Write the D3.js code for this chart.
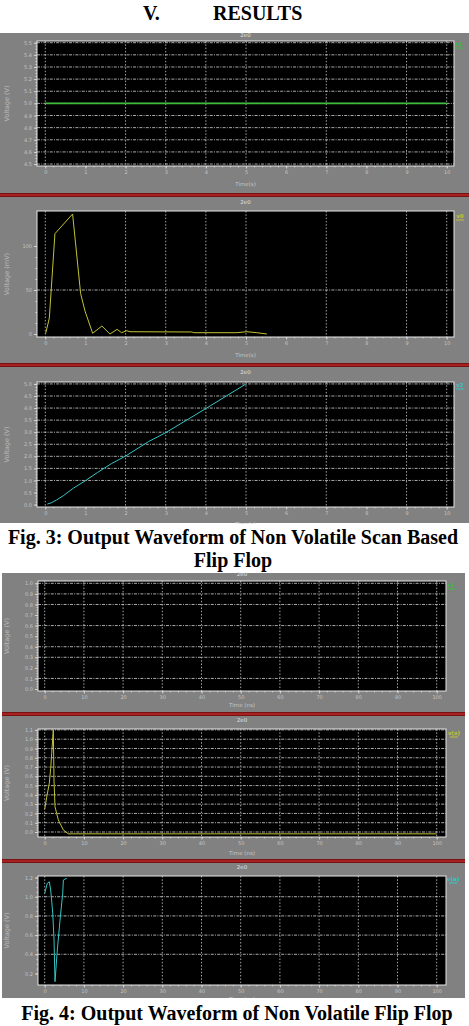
<!DOCTYPE html>
<html>
<head>
<meta charset="utf-8">
<script src="https://cdn.jsdelivr.net/npm/d3@7"></script>
<style>
  body { margin: 0; background: #fff; }
  svg { display: block; }
  .tick text { fill: #c4c4c4; font-family: "DejaVu Sans", sans-serif; font-size: 5px; }
  .tick line { stroke: #d8d8d8; }
  .domain { display: none; }
</style>
</head>
<body>
<div id="chart"></div>
<script>
// ---- Fig. 3 (time 0..10) ----
const fig3TimeTicks = [0, 1, 2, 3, 4, 5, 6, 7, 8, 9, 10];
const fig3TimeGrid = [0, 2, 3, 4, 5, 7, 9, 10];

const clkTicks = [4.5, 4.6, 4.7, 4.8, 4.9, 5.0, 5.1, 5.2, 5.3, 5.4, 5.5];
const clkTime = [0, 10];
const clkVolt = [5.0, 5.0];

const diffTicks = [0, 50, 100];
const diffGrid = [50];
const diffTime = [0.01, 0.1, 0.24, 0.68, 0.88, 0.99, 1.18, 1.41, 1.61, 1.79, 1.9, 2.03, 2.11, 3.65, 3.7, 4.77, 5.02, 5.27, 5.52];
const diffMv = [0.8, 18, 114, 136.4, 46, 26, 0.8, 9.1, 0, 5.3, 1.5, 3.75, 2.6, 2.3, 1.5, 1.5, 2.6, 1.5, 0];

const rampTicks = [0, 0.5, 1.0, 1.5, 2.0, 2.5, 3.0, 3.5, 4.0, 4.5, 5.0];
const rampGrid = [1.0, 1.5, 2.0, 2.5, 3.0, 3.5, 4.0, 4.5, 5.0];
const rampTime = [0.05, 0.16, 0.28, 0.45, 0.7, 0.99, 1.3, 1.65, 2.01, 2.57, 3.0, 4.0, 5.0];
const rampVolt = [0.02, 0.08, 0.19, 0.37, 0.68, 0.98, 1.33, 1.7, 2.02, 2.61, 2.98, 3.98, 5.0];

// ---- Fig. 4 (time 0..100) ----
const fig4TimeTicks = [0, 10, 20, 30, 40, 50, 60, 70, 80, 90, 100];

const holdTicks = [0, 0.1, 0.2, 0.3, 0.4, 0.5, 0.6, 0.7, 0.8, 0.9, 1.0];
const holdGrid = [0.1, 0.3, 0.4, 0.6, 0.8, 0.9, 1.0];

const decayTicks = [0, 0.1, 0.2, 0.3, 0.4, 0.5, 0.6, 0.7, 0.8, 0.9, 1.0, 1.1];
const decayTime = [0, 0.51, 1.18, 1.53, 1.79, 2.2, 2.37, 2.63, 3.47, 4.75, 6.02, 100];
const decayVolt = [0.245, 0.375, 0.526, 0.687, 0.849, 1.1, 0.56, 0.273, 0.13, 0.022, -0.02, -0.02];

const swingTicks = [0.2, 0.4, 0.6, 0.8, 1.0, 1.2];
const swingGrid = [0.4, 0.6, 0.8, 1.0];
const swingTime = [0, 0.66, 1.18, 1.53, 2.05, 2.38, 2.63, 3.22, 3.91, 4.6, 4.76, 5.45, 5.63];
const swingVolt = [1.035, 1.14, 1.156, 1.07, 0.83, 0.55, 0.115, 0.445, 0.757, 1.035, 1.174, 1.19, 1.19];

const svg = d3.select('#chart').append('svg')
  .attr('width', 469)
  .attr('height', 1026);

const serif = '"Liberation Serif", "Times New Roman", serif';

svg.append('text').attr('x', 143).attr('y', 20)
  .attr('font-family', serif).attr('font-weight', 'bold').attr('font-size', 20)
  .text('V.');
svg.append('text').attr('x', 213).attr('y', 20)
  .attr('font-family', serif).attr('font-weight', 'bold').attr('font-size', 20)
  .text('RESULTS');

// separators between stacked panels
function separator(x0, x1, y) {
  svg.append('rect').attr('x', x0).attr('y', y).attr('width', x1 - x0).attr('height', 4).attr('fill', '#7a1212');
  svg.append('rect').attr('x', x0).attr('y', y + 1).attr('width', x1 - x0).attr('height', 2).attr('fill', '#a52222');
}

let clipId = 0;

function panel(o) {
  const g = svg.append('g');

  g.append('rect')
    .attr('x', o.band[0]).attr('y', o.band[1])
    .attr('width', o.band[2] - o.band[0]).attr('height', o.band[3] - o.band[1])
    .attr('fill', '#818181');

  const [px0, py0, px1, py1] = o.plot;

  const x = d3.scaleLinear().domain(o.xDomain).range(o.xRange);
  const y = d3.scaleLinear().domain(o.yDomain).range([py1, py0]);

  g.append('rect')
    .attr('x', px0).attr('y', py0)
    .attr('width', px1 - px0).attr('height', py1 - py0)
    .attr('fill', '#000');

  // grid
  g.selectAll('.hgrid')
    .data(o.yGrid)
    .enter().append('line')
    .attr('x1', px0).attr('x2', px1)
    .attr('y1', d => y(d)).attr('y2', d => y(d))
    .attr('stroke', '#d4d4d4').attr('stroke-width', 0.8)
    .attr('stroke-dasharray', '3,1.2,1,1.2');

  g.selectAll('.vgrid')
    .data(o.xGrid)
    .enter().append('line')
    .attr('x1', d => x(d)).attr('x2', d => x(d))
    .attr('y1', py0).attr('y2', py1)
    .attr('stroke', '#cfcfcf').attr('stroke-width', 0.8)
    .attr('stroke-dasharray', '1.5,1.8');

  // trace
  const id = 'clip' + (clipId++);
  g.append('clipPath').attr('id', id)
    .append('rect').attr('x', px0).attr('y', py0)
    .attr('width', px1 - px0).attr('height', py1 - py0);

  if (o.t && o.t.length) {
    const pts = o.t.map((t, i) => [t, o.v[i]]);
    g.append('path')
      .datum(pts)
      .attr('clip-path', 'url(#' + id + ')')
      .attr('fill', 'none')
      .attr('stroke', o.color)
      .attr('stroke-width', o.width || 1)
      .attr('d', d3.line().x(d => x(d[0])).y(d => y(d[1])));
  }

  g.append('rect')
    .attr('x', px0).attr('y', py0)
    .attr('width', px1 - px0).attr('height', py1 - py0)
    .attr('fill', 'none').attr('stroke', '#e6e6e6').attr('stroke-width', 1);

  // axes
  g.append('g')
    .attr('transform', 'translate(' + px0 + ',0)')
    .call(d3.axisLeft(y).tickValues(o.yTicks).tickSize(3).tickPadding(2).tickFormat(o.yFmt));

  const step = (o.yTicks[1] - o.yTicks[0]) / 4;
  const minorY = d3.range(o.yTicks[0], o.yTicks[o.yTicks.length - 1] + step / 2, step);
  g.append('g')
    .attr('transform', 'translate(' + px0 + ',0)')
    .call(d3.axisLeft(y).tickValues(minorY).tickSize(1.5).tickFormat(''));

  g.append('g')
    .attr('transform', 'translate(0,' + py1 + ')')
    .call(d3.axisBottom(x).tickValues(o.xTicks).tickSize(2.5).tickPadding(2).tickFormat(d3.format('d')));

  const xs = (o.xTicks[1] - o.xTicks[0]) / 5;
  const minorX = d3.range(o.xTicks[0], o.xTicks[o.xTicks.length - 1] + xs / 2, xs);
  g.append('g')
    .attr('transform', 'translate(0,' + py1 + ')')
    .call(d3.axisBottom(x).tickValues(minorX).tickSize(1.3).tickFormat(''));

  // labels
  g.append('text')
    .attr('transform', 'translate(9,' + ((py0 + py1) / 2) + ') rotate(-90)')
    .attr('text-anchor', 'middle')
    .attr('font-family', 'DejaVu Sans, sans-serif').attr('font-size', 6.5)
    .attr('fill', '#b9b9b9')
    .text(o.yLabel);

  g.append('text')
    .attr('x', (px0 + px1) / 2).attr('y', o.xLabelY)
    .attr('text-anchor', 'middle')
    .attr('font-family', 'DejaVu Sans, sans-serif').attr('font-size', 5.5)
    .attr('fill', '#c4c4c4')
    .text(o.xLabel);

  g.append('text')
    .attr('x', (px0 + px1) / 2).attr('y', o.titleY)
    .attr('text-anchor', 'middle')
    .attr('font-family', 'DejaVu Sans, sans-serif').attr('font-size', 5.5)
    .attr('fill', '#e0e0e0')
    .text(o.title);

  // legend tag at right
  g.append('text')
    .attr('x', o.legend[0]).attr('y', o.legend[1])
    .attr('text-anchor', 'middle')
    .attr('font-family', 'DejaVu Sans, sans-serif').attr('font-size', 5.5)
    .attr('font-weight', 'bold')
    .attr('fill', o.color)
    .text(o.legendText);
  g.append('line')
    .attr('x1', o.legend[0] - 4).attr('x2', o.legend[0] + 4)
    .attr('y1', o.legend[1] + 2).attr('y2', o.legend[1] + 2)
    .attr('stroke', o.color).attr('stroke-width', 1);
}

const fmt1 = d3.format('.1f');

// Fig. 3 panels
panel({
  band: [0, 33, 469, 193], plot: [37, 41, 454, 166],
  xDomain: [0, 10], xRange: [45.3, 446.7], xTicks: fig3TimeTicks, xGrid: fig3TimeGrid,
  yDomain: [4.484, 5.514], yTicks: clkTicks, yGrid: clkTicks, yFmt: fmt1,
  t: clkTime, v: clkVolt, color: '#3dbb3d', width: 1.6,
  yLabel: 'Voltage (V)', xLabel: 'Time(s)', xLabelY: 186, title: '2e0', titleY: 37,
  legend: [459, 46], legendText: 'v1'
});
separator(0, 469, 193);

panel({
  band: [0, 197, 469, 363], plot: [37, 211, 454, 337],
  xDomain: [0, 10], xRange: [45.3, 446.7], xTicks: fig3TimeTicks, xGrid: fig3TimeGrid,
  yDomain: [-3.4, 139.8], yTicks: diffTicks, yGrid: diffGrid, yFmt: d3.format('d'),
  t: diffTime, v: diffMv, color: '#c2c236', width: 1,
  yLabel: 'Voltage (mV)', xLabel: 'Time(s)', xLabelY: 357, title: '2e0', titleY: 204,
  legend: [460, 218], legendText: 'v0'
});
separator(0, 469, 363);

panel({
  band: [0, 367, 469, 523], plot: [37, 382, 454, 507],
  xDomain: [0, 10], xRange: [45.3, 446.7], xTicks: fig3TimeTicks, xGrid: fig3TimeGrid,
  yDomain: [-0.1, 5.08], yTicks: rampTicks, yGrid: rampGrid, yFmt: fmt1,
  t: rampTime, v: rampVolt, color: '#36c4c4', width: 1,
  yLabel: 'Voltage (V)', xLabel: 'Time(s)', xLabelY: 526, title: '2e0', titleY: 374,
  legend: [460, 387], legendText: 'v2'
});

svg.append('rect').attr('x', 0).attr('y', 524).attr('width', 469).attr('height', 48).attr('fill', '#fff');
svg.append('text').attr('x', 233).attr('y', 544).attr('text-anchor', 'middle')
  .attr('font-family', serif).attr('font-weight', 'bold').attr('font-size', 20)
  .text('Fig. 3: Output Waveform of Non Volatile Scan Based');
svg.append('text').attr('x', 233).attr('y', 567).attr('text-anchor', 'middle')
  .attr('font-family', serif).attr('font-weight', 'bold').attr('font-size', 20)
  .text('Flip Flop');

// Fig. 4 panels
panel({
  band: [2, 573, 465, 712], plot: [38, 581, 446, 691],
  xDomain: [0, 100], xRange: [44.7, 436.7], xTicks: fig4TimeTicks, xGrid: fig4TimeTicks,
  yDomain: [-0.019, 1.022], yTicks: holdTicks, yGrid: holdGrid, yFmt: fmt1,
  t: [], v: [], color: '#3dbb3d',
  yLabel: 'Voltage (V)', xLabel: 'Time (ns)', xLabelY: 707, title: '2e0', titleY: 576,
  legend: [451, 587], legendText: 'v1'
});
separator(2, 465, 712);

panel({
  band: [2, 716, 465, 859], plot: [38, 729, 446, 837],
  xDomain: [0, 100], xRange: [44.7, 436.7], xTicks: fig4TimeTicks, xGrid: fig4TimeTicks,
  yDomain: [-0.054, 1.11], yTicks: decayTicks, yGrid: decayTicks, yFmt: fmt1,
  t: decayTime, v: decayVolt, color: '#c2c236', width: 1,
  yLabel: 'Voltage (V)', xLabel: 'Time (ns)', xLabelY: 855, title: '2e0', titleY: 722,
  legend: [454, 735], legendText: 'v(x)'
});
separator(2, 465, 859);

panel({
  band: [2, 863, 465, 998], plot: [38, 876, 446, 985],
  xDomain: [0, 100], xRange: [44.7, 436.7], xTicks: fig4TimeTicks, xGrid: fig4TimeTicks,
  yDomain: [0.08, 1.216], yTicks: swingTicks, yGrid: swingGrid, yFmt: fmt1,
  t: swingTime, v: swingVolt, color: '#36c4c4', width: 1,
  yLabel: 'Voltage (V)', xLabel: 'Time (ns)', xLabelY: 1001, title: '2e0', titleY: 869,
  legend: [453, 881], legendText: 'v(a)'
});

svg.append('rect').attr('x', 0).attr('y', 998).attr('width', 469).attr('height', 28).attr('fill', '#fff');
svg.append('text').attr('x', 237).attr('y', 1020).attr('text-anchor', 'middle')
  .attr('font-family', serif).attr('font-weight', 'bold').attr('font-size', 20)
  .text('Fig. 4: Output Waveform of Non Volatile Flip Flop');
</script>
</body>
</html>
